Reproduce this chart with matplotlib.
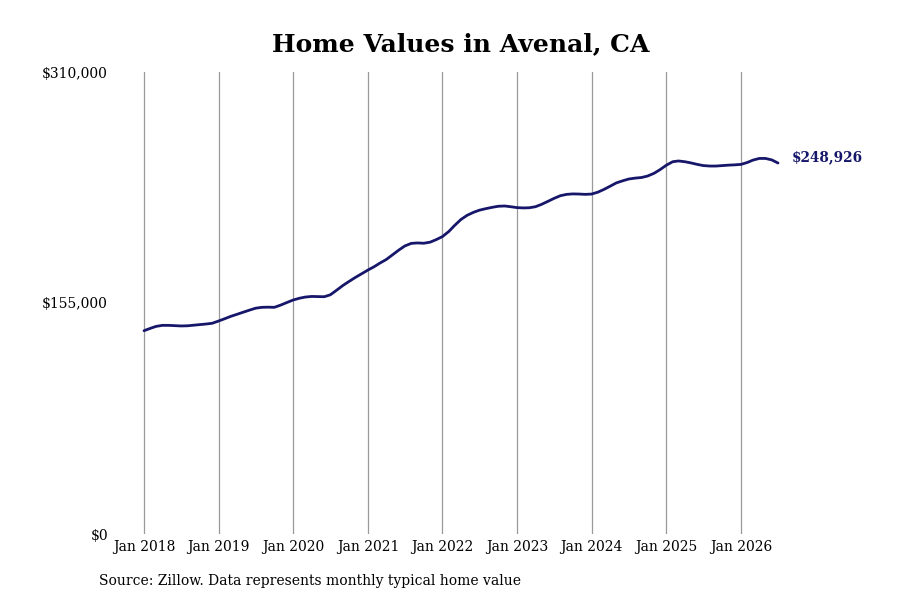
import matplotlib
matplotlib.use("Agg")
import matplotlib.pyplot as plt
import matplotlib.dates as mdates
import pandas as pd
import numpy as np

title = "Home Values in Avenal, CA"
source = "Source: Zillow. Data represents monthly typical home value"
start_month = "2018-01-01"
# monthly typical home values (thousands of $), Jan 2018 .. Jul 2026
values_k = [
    136.4, 138.0, 139.3, 140.0, 140.0, 139.8, 139.6, 139.7, 140.1, 140.5, 140.9, 141.4,
    142.9, 144.5, 146.0, 147.4, 148.8, 150.2, 151.5, 152.1, 152.2, 152.1, 153.6, 155.3,
    157.0, 158.2, 159.0, 159.4, 159.3, 159.2, 160.5, 163.6, 166.8, 169.5, 172.2, 174.6,
    177.1, 179.4, 181.8, 184.2, 187.3, 190.5, 193.3, 195.0, 195.3, 195.1, 195.8, 197.5,
    199.6, 203.0, 207.0, 211.0, 213.8, 215.8, 217.3, 218.3, 219.2, 219.9, 220.1, 219.6,
    219.0, 218.8, 218.9, 219.6, 221.2, 223.2, 225.2, 227.0, 227.9, 228.2, 228.1, 227.9,
    228.1, 229.4, 231.2, 233.4, 235.6, 237.0, 238.2, 238.8, 239.2, 240.2, 242.0, 244.5,
    247.5, 249.8, 250.3, 249.8, 249.0, 248.0, 247.2, 246.9, 246.9, 247.2, 247.5, 247.7,
    248.0, 249.3, 250.9, 252.0, 252.0, 251.0, 248.926,
]
y_ticks = [0, 155000, 310000]
y_tick_labels = ["$0", "$155,000", "$310,000"]
tick_years = list(range(2018, 2027))
last_label = "$248,926"

dates = pd.date_range(start_month, periods=len(values_k), freq="MS")
values = np.array(values_k) * 1000

line_color = "#16166a"
serif = ["DejaVu Serif"]

fig = plt.figure(figsize=(9, 6), dpi=100)
W, H = 900, 600
# pixel positions: Jan 2018 at x=144, Jan 2026 at x=741; y 0 at 534, 310000 at 72
ax_left_px, ax_right_px = 110, 790
ax = fig.add_axes([ax_left_px / W, (H - 534) / H, (ax_right_px - ax_left_px) / W, (534 - 72) / H])

d0 = mdates.date2num(pd.Timestamp("2018-01-01"))
d1 = mdates.date2num(pd.Timestamp("2026-01-01"))
ppd = (741 - 144) / (d1 - d0)
xmin = d0 - (144 - ax_left_px) / ppd
xmax = d0 + (ax_right_px - 144) / ppd

ax.plot(mdates.date2num(dates), values, color=line_color, linewidth=2.0, solid_capstyle="round")
ax.set_xlim(xmin, xmax)
ax.set_ylim(0, 310000)

for s in ax.spines.values():
    s.set_visible(False)

tick_pos = [mdates.date2num(pd.Timestamp(f"{y}-01-01")) for y in tick_years]
ax.set_xticks(tick_pos)
ax.set_xticklabels([f"Jan {y}" for y in tick_years], fontfamily=serif, fontsize=10)
ax.set_yticks(y_ticks)
ax.set_yticklabels(y_tick_labels, fontfamily=serif, fontsize=10)
ax.tick_params(axis="both", length=0)
ax.tick_params(axis="x", pad=4)
ax.tick_params(axis="y", pad=1.5)
ax.grid(axis="x", color="#999999", linewidth=0.9)
ax.set_axisbelow(True)

ax.annotate(last_label, xy=(mdates.date2num(dates[-1]), values[-1]),
            xytext=(10, 4), textcoords="offset points",
            fontfamily=serif, fontsize=9.8, fontweight="bold", color=line_color,
            va="center", ha="left", annotation_clip=False)

fig.text(0.5 * (272 + 649) / W, 1 - 44 / H, title, ha="center", va="center",
         fontfamily=serif, fontsize=18, fontweight="bold")
fig.text(99 / W, 1 - 581 / H, source, ha="left", va="center",
         fontfamily=serif, fontsize=10)

fig.savefig("out.png", dpi=100, facecolor="white")
